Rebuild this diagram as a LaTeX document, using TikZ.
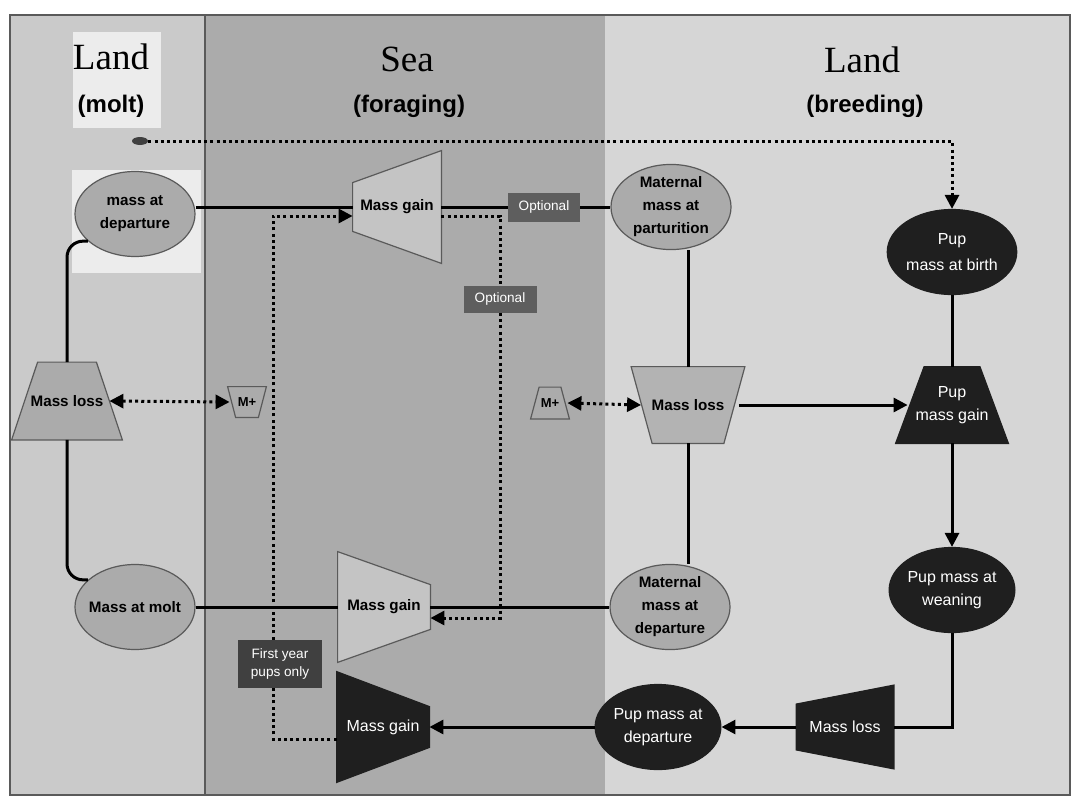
\documentclass[tikz,border=0pt]{standalone}
\usepackage{fontspec}
\setmainfont{Liberation Serif}
\setsansfont{Liberation Sans}
\usetikzlibrary{shapes.geometric,arrows.meta,backgrounds}

\definecolor{moltgrey}{HTML}{CACACA}
\definecolor{seagrey}{HTML}{ABABAB}
\definecolor{breedgrey}{HTML}{D6D6D6}
\definecolor{palebox}{HTML}{ECECEC}
\definecolor{shapegrey}{HTML}{ABABAB}
\definecolor{gainlight}{HTML}{C4C4C4}
\definecolor{shapeline}{HTML}{5A5A5A}
\definecolor{pupdark}{HTML}{1F1F1F}
\definecolor{optgrey}{HTML}{5E5E5E}
\definecolor{firstgrey}{HTML}{404040}

\tikzset{
  massell/.style={ellipse, draw=shapeline, line width=0.6pt, fill=shapegrey,
    minimum width=60pt, minimum height=42.5pt, inner sep=0pt, align=center,
    font=\sffamily\bfseries\fontsize{7.6}{11.5}\selectfont},
  pupell/.style={massell, draw=pupdark, fill=pupdark, text=white,
    font=\sffamily\fontsize{8}{11.5}\selectfont},
  trapbox/.style={rectangle, inner sep=0pt, align=center,
    font=\sffamily\bfseries\fontsize{7.6}{11.5}\selectfont},
  darktrap/.style={trapbox, text=white, font=\sffamily\fontsize{8}{11.5}\selectfont},
  tagbox/.style={rectangle, fill=optgrey, text=white, inner sep=0pt, align=center,
    font=\sffamily\fontsize{6.8}{9}\selectfont},
  title/.style={font=\fontsize{18.5}{20}\selectfont},
  subtitle/.style={font=\sffamily\bfseries\fontsize{12}{14}\selectfont},
  flow/.style={line width=1.5pt},
  dots/.style={line width=1.5pt, dash pattern=on 1.5pt off 1.6pt},
  lightshape/.style={fill=gainlight, draw=shapeline, line width=0.6pt},
  darkshape/.style={fill=pupdark, draw=pupdark, line width=0.6pt},
  >={Triangle[length=7pt,width=7pt]}
}

\begin{document}
\begin{tikzpicture}[x=0.5pt,y=-0.5pt]
\useasboundingbox (0,0) rectangle (1074,797);

% headings
\node[title] (landL) at (111,57) {Land};
\node[subtitle] (moltT) at (111,106) {(molt)};
\node[title] (seaT) at (407,59) {Sea};
\node[subtitle] (forageT) at (409,106) {(foraging)};
\node[title] (landR) at (862,60) {Land};
\node[subtitle] (breedT) at (865,106) {(breeding)};

% mass states
\node[massell] (mdep) at (135,214) {mass at\\departure};
\node[massell, inner sep=-2pt] (mmolt) at (135,607) {Mass at molt};
\node[massell] (mpart) at (671,207) {Maternal\\mass at\\parturition};
\node[massell] (mmdep) at (670,607) {Maternal\\mass at\\departure};
\node[pupell, font=\sffamily\fontsize{8}{13}\selectfont] (pbirth) at (952,252) {Pup\\mass at birth};
\node[pupell] (pwean) at (952,590) {Pup mass at\\weaning};
\node[pupell] (pdep) at (658,727) {Pup mass at\\departure};

% gain / loss steps (outlines drawn below)
\node[trapbox, minimum width=44pt, minimum height=56pt] (tgain) at (397,207) {Mass gain};
\node[trapbox, minimum width=46pt, minimum height=55pt] (lgain) at (384,607) {Mass gain};
\node[darktrap, minimum width=46pt, minimum height=55pt] (dgain) at (383,727) {Mass gain};
\node[trapbox, minimum width=55pt, minimum height=38.5pt] (lossL) at (67,401) {Mass loss};
\node[trapbox, minimum width=56.5pt, minimum height=38pt] (lossR) at (688,405) {Mass loss};
\node[darktrap, minimum width=56pt, minimum height=38pt] (pgain) at (952,405) {Pup\\mass gain};
\node[darktrap, minimum width=48.5pt, minimum height=41.5pt] (lossP) at (845,727) {Mass loss};
\node[trapbox, minimum width=19pt, minimum height=15pt, font=\sffamily\bfseries\fontsize{6.5}{7}\selectfont] (mpL) at (247,402) {M+};
\node[trapbox, minimum width=19pt, minimum height=15.5pt, font=\sffamily\bfseries\fontsize{6.5}{7}\selectfont] (mpR) at (550,403) {M+};

% tags
\node[tagbox, minimum width=36pt, minimum height=14.5pt] (opt1) at (544,207) {Optional};
\node[tagbox, minimum width=36.5pt, minimum height=13.5pt] (opt2) at (500,299) {Optional};
\node[tagbox, fill=firstgrey, minimum width=42pt, minimum height=24pt] (first) at (280,664) {First year\\pups only};
\node[ellipse, fill=firstgrey, minimum width=8pt, minimum height=4pt, inner sep=0pt] (blob) at (140,141) {};

% adult cycle
\draw[flow] (mdep.east |- tgain.west) -- (tgain.west);
\draw[flow] (tgain.east) -- (opt1.west);
\draw[flow] (opt1.east) -- (mpart.west);
\draw[flow, rounded corners=8pt] (mdep.210) -| (lossL.north);
\draw[flow, rounded corners=8pt] (lossL.south) |- (mmolt.150);
\draw[flow] (mmolt.east) -- (lgain.west);
\draw[flow] (lgain.east) -- (mmdep.west);
\draw[flow] (lossR.north) -- (lossR.north |- mpart.south);
\draw[flow] (lossR.south) -- (lossR.south |- mmdep.north);
\draw[flow, ->] ([xshift=-3pt]lossR.east) -- ([xshift=6pt]pgain.west);

% pup line
\draw[flow] (pbirth.south) -- (pgain.north);
\draw[flow, ->] (pgain.south) -- (pwean.north);
\draw[flow] (pwean.south) |- (lossP.east);
\draw[flow, ->] (lossP.west) -- (pdep.east);
\draw[flow, ->] (pdep.west) -- (dgain.east);

% dotted links
\draw[dots, ->] (blob.east) -| (pbirth.north);
\draw[dots] ([yshift=-4.5pt]tgain.east) -| (opt2.north);
\draw[dots, ->] (opt2.south) |- ([yshift=-5.5pt]lgain.east);
\draw[dots] ([yshift=-6pt]dgain.west) -| ([xshift=-3.5pt]first.south);
\draw[dots, ->] ([xshift=-3.5pt]first.north) |- ([yshift=-4.5pt]tgain.west);
\draw[dots, <->] ([xshift=-6.5pt]lossL.east) -- ([xshift=1pt]mpL.west);
\draw[dots, <->] ([xshift=-1pt]mpR.east) -- ([xshift=5pt]lossR.west);

\begin{scope}[on background layer]
  % land / sea bands
  \fill[white] (0,0) rectangle (1074,797);
  \fill[moltgrey] (10,15) rectangle (205,795);
  \fill[seagrey] (205,15) rectangle (605,795);
  \fill[breedgrey] (605,15) rectangle (1070,795);
  \draw[shapeline, line width=0.6pt] (10,15) rectangle (1070,795);
  \draw[shapeline, line width=0.6pt] (205,15) -- (205,795);
  \fill[palebox] (73,32) rectangle (161,128);
  \fill[palebox] (72,170) rectangle (201,273);

  % trapezoids
  \draw[lightshape] (tgain.north east) -- (tgain.south east)
    -- ([yshift=16pt]tgain.south west) -- ([yshift=-16pt]tgain.north west) -- cycle;
  \draw[lightshape] (lgain.north west) -- ([yshift=-16.5pt]lgain.north east)
    -- ([yshift=16.5pt]lgain.south east) -- (lgain.south west) -- cycle;
  \draw[darkshape] (dgain.north west) -- ([yshift=-17.5pt]dgain.north east)
    -- ([yshift=17.5pt]dgain.south east) -- (dgain.south west) -- cycle;
  \draw[darkshape] (lossP.north east) -- (lossP.south east)
    -- ([yshift=9.5pt]lossP.south west) -- ([yshift=-9.5pt]lossP.north west) -- cycle;
  \draw[lightshape, fill=shapegrey] (lossL.south west) -- (lossL.south east)
    -- ([xshift=-13pt]lossL.north east) -- ([xshift=13pt]lossL.north west) -- cycle;
  \draw[lightshape, fill=shapegrey!90!white] (lossR.north west) -- (lossR.north east)
    -- ([xshift=-10.5pt]lossR.south east) -- ([xshift=10.5pt]lossR.south west) -- cycle;
  \draw[darkshape] (pgain.south west) -- (pgain.south east)
    -- ([xshift=-14.25pt]pgain.north east) -- ([xshift=14.25pt]pgain.north west) -- cycle;
  \draw[lightshape, fill=shapegrey] (mpL.north west) -- (mpL.north east)
    -- ([xshift=-4pt]mpL.south east) -- ([xshift=4pt]mpL.south west) -- cycle;
  \draw[lightshape, fill=shapegrey] (mpR.south west) -- (mpR.south east)
    -- ([xshift=-4.25pt]mpR.north east) -- ([xshift=4.25pt]mpR.north west) -- cycle;
\end{scope}
\end{tikzpicture}
\end{document}
